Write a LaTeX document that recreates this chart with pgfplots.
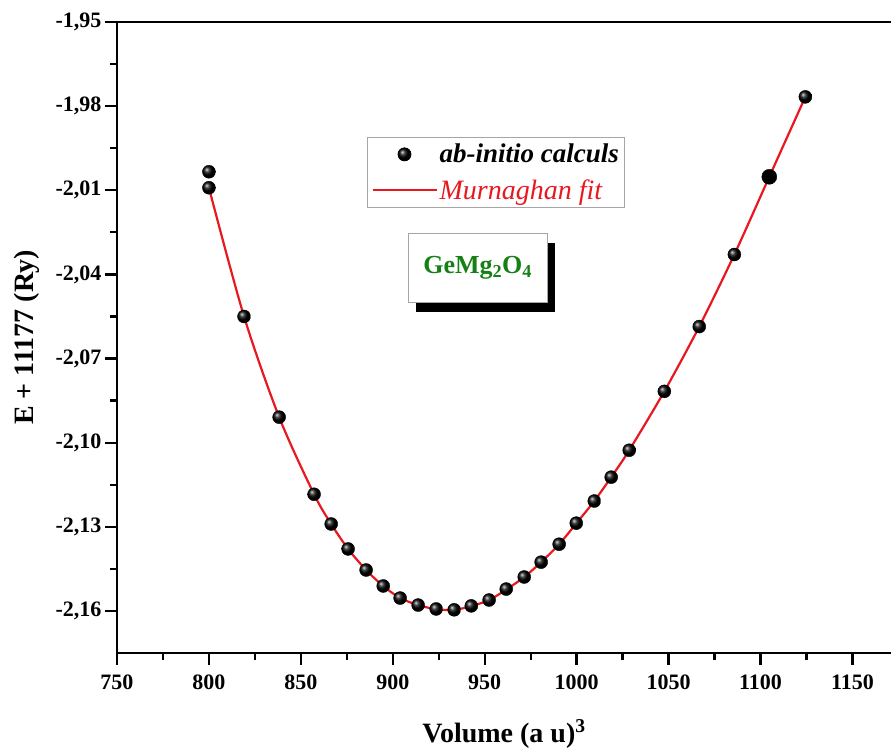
\documentclass[border=0pt]{standalone}
\usepackage{fontspec}
\setmainfont{Liberation Serif}
\usepackage{pgfplots}
\pgfplotsset{compat=1.18}
\usetikzlibrary{shadows}

\definecolor{fitred}{RGB}{232,24,32}
\definecolor{formulagreen}{RGB}{22,128,22}

% E(V) from the ab-initio runs
\pgfplotstableread{
V       E
800.0  -2.0034
800.0  -2.0091
819.1  -2.0550
838.2  -2.0909
857.2  -2.1184
866.5  -2.1290
875.7  -2.1379
885.5  -2.1454
894.8  -2.1511
904.0  -2.1554
913.8  -2.1579
923.6  -2.1593
933.4  -2.1596
942.7  -2.1582
952.4  -2.1561
961.7  -2.1522
971.5  -2.1479
980.7  -2.1426
990.5  -2.1362
999.8  -2.1287
1009.6 -2.1208
1018.8 -2.1123
1028.6 -2.1027
1047.7 -2.0817
1066.7 -2.0586
1085.8 -2.0329
1124.4 -1.9767
}\calc

% the run drawn as a plain disc
\pgfplotstableread{
V       E
1104.8 -2.0052
}\calcplain

% Murnaghan equation of state through the runs
\pgfplotstableread{
V       E
800.0  -2.0091
819.1  -2.0550
838.2  -2.0909
857.2  -2.1184
866.5  -2.1290
875.7  -2.1379
885.5  -2.1454
894.8  -2.1511
904.0  -2.1554
913.8  -2.1579
923.6  -2.1594
933.4  -2.1596
942.7  -2.1583
952.4  -2.1561
961.7  -2.1524
971.5  -2.1479
980.7  -2.1426
990.5  -2.1362
999.8  -2.1288
1009.6 -2.1208
1018.8 -2.1123
1028.6 -2.1027
1047.7 -2.0817
1066.7 -2.0586
1085.8 -2.0329
1104.8 -2.0052
1124.4 -1.9767
}\fit

\begin{document}
\begin{tikzpicture}
\begin{axis}[
  scale only axis,
  width=774pt, height=631pt,
  xmin=750, xmax=1171,
  ymin=-2.175, ymax=-1.95,
  axis x line*=box, axis y line*=left,
  axis line style={line width=2.5pt, black},
  xtick={750,800,...,1150},
  ytick={-2.16,-2.13,-2.10,-2.07,-2.04,-2.01,-1.98,-1.95},
  minor x tick num=1, minor y tick num=1,
  xtick pos=bottom, ytick pos=left,
  tick align=outside,
  major tick length=12pt, minor tick length=7pt,
  every tick/.style={line width=2.3pt, black},
  /pgf/number format/assume math mode=true,
  ticklabel style={font=\bfseries\fontsize{22}{26}\selectfont},
  x tick label style={yshift=-6pt, /pgf/number format/.cd, set thousands separator={}},
  y tick label style={/pgf/number format/.cd, fixed, fixed zerofill, precision=2, use comma},
  xlabel={Volume (a u)\textsuperscript{3}},
  ylabel={E + 11177 (Ry)},
  every axis x label/.style={at={(rel axis cs:0.5,0)}, anchor=base, yshift=-89pt,
                font=\bfseries\fontsize{28}{32}\selectfont},
  every axis y label/.style={at={(rel axis cs:0,0.5)}, xshift=-90pt, rotate=90,
                anchor=center, font=\bfseries\fontsize{28}{32}\selectfont},
  legend image code/.code={%
    \draw[mark repeat=2, mark phase=2]
      plot coordinates {(0pt,0pt) (32pt,0pt) (64pt,0pt)};},
  legend style={
    at={(0.323,0.818)}, anchor=north west,
    draw=gray!70, line width=0.8pt,
    inner xsep=4pt, inner ysep=5pt,
    row sep=11pt,
  },
  legend cell align=left,
]
\addplot[only marks, mark=ball, mark size=6.5pt, /tikz/ball color=black]
  table[x=V, y=E] {\calc};
\addlegendentry{\fontsize{27}{30}\selectfont\textbf{\textit{ab-initio calculs}}}

\addplot[fitred, line width=2.2pt, smooth, no markers]
  table[x=V, y=E] {\fit};
\addlegendentry{\fontsize{28}{30}\selectfont\textcolor{fitred}{\textit{Murnaghan fit}}}

\addplot[only marks, mark=*, mark size=7.5pt, black, forget plot]
  table[x=V, y=E] {\calcplain};

\node[draw=gray!70, line width=0.8pt, fill=white,
      minimum width=139pt, minimum height=69pt,
      drop shadow={shadow xshift=8pt, shadow yshift=-9pt, fill=black, opacity=1},
      font=\bfseries\fontsize{26}{30}\selectfont, text=formulagreen]
  at (rel axis cs:0.466,0.610) {GeMg\textsubscript{2}O\textsubscript{4}};

\coordinate (frameSW) at (rel axis cs:0,0);
\coordinate (frameNE) at (rel axis cs:1,1);
\end{axis}
% page frame around the plot area and its labels
\pgfresetboundingbox
\path ([shift={(-117pt,-96pt)}]frameSW) rectangle ([shift={(0pt,22pt)}]frameNE);
\end{tikzpicture}
\end{document}
